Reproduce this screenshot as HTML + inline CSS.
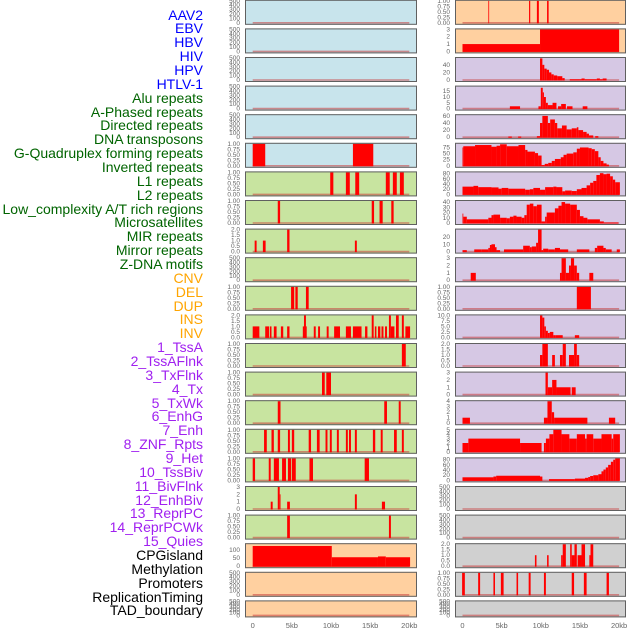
<!DOCTYPE html>
<html><head><meta charset="utf-8">
<style>
html,body{margin:0;padding:0;background:#fff;}
#wrap{position:relative;width:630px;height:630px;overflow:hidden;font-family:"Liberation Sans",sans-serif;}
.lbl{position:absolute;right:427px;font-size:14px;line-height:14px;white-space:nowrap;}
svg{position:absolute;left:0;top:0;}
</style></head>
<body>
<div id="wrap">
<svg id="chart" width="630" height="630"></svg>
</div>
<script>
const labels = ["AAV2","EBV","HBV","HIV","HPV","HTLV-1","Alu repeats","A-Phased repeats","Directed repeats","DNA transposons","G-Quadruplex forming repeats","Inverted repeats","L1 repeats","L2 repeats","Low_complexity A/T rich regions","Microsatellites","MIR repeats","Mirror repeats","Z-DNA motifs","CNV","DEL","DUP","INS","INV","1_TssA","2_TssAFlnk","3_TxFlnk","4_Tx","5_TxWk","6_EnhG","7_Enh","8_ZNF_Rpts","9_Het","10_TssBiv","11_BivFlnk","12_EnhBiv","13_ReprPC","14_ReprPCWk","15_Quies","CPGisland","Methylation","Promoters","ReplicationTiming","TAD_boundary"];
const labelColors = ["#0000ff","#0000ff","#0000ff","#0000ff","#0000ff","#0000ff","#006400","#006400","#006400","#006400","#006400","#006400","#006400","#006400","#006400","#006400","#006400","#006400","#006400","#ffa500","#ffa500","#ffa500","#ffa500","#ffa500","#a020f0","#a020f0","#a020f0","#a020f0","#a020f0","#a020f0","#a020f0","#a020f0","#a020f0","#a020f0","#a020f0","#a020f0","#a020f0","#a020f0","#a020f0","#000","#000","#000","#000","#000"];
const leftBg = ["#c8e4ec","#c8e4ec","#c8e4ec","#c8e4ec","#c8e4ec","#c8e4ec","#c8e4a0","#c8e4a0","#c8e4a0","#c8e4a0","#c8e4a0","#c8e4a0","#c8e4a0","#c8e4a0","#c8e4a0","#c8e4a0","#c8e4a0","#c8e4a0","#c8e4a0","#ffd0a0","#ffd0a0","#ffd0a0"];
const rightBg = ["#ffd0a0","#ffd0a0","#d6c8e4","#d6c8e4","#d6c8e4","#d6c8e4","#d6c8e4","#d6c8e4","#d6c8e4","#d6c8e4","#d6c8e4","#d6c8e4","#d6c8e4","#d6c8e4","#d6c8e4","#d6c8e4","#d6c8e4","#d0d0d0","#d0d0d0","#d0d0d0","#d0d0d0","#d0d0d0"];
const leftAxis = [[500,100,500,0],[500,100,500,0],[500,100,500,0],[500,100,500,0],[500,100,500,0],[1,0.25,1,2],[1,0.25,1,2],[1,0.25,1,2],[2,0.5,2,1],[500,100,500,0],[1,0.25,1,2],[2,0.5,2,1],[1,0.25,1,2],[1,0.25,1,2],[1,0.25,1,2],[1,0.25,1,2],[1,0.25,1,2],[3,1,3,0],[1,0.25,1,2],[135,50,100,0],[500,100,500,0],[500,100,500,0]];
const rightAxis = [[1,0.25,1,2],[3,1,3,0],[58,20,40,0],[19,5,15,0],[62,20,60,0],[90,25,75,0],[85,20,80,0],[42,10,40,0],[30,10,20,0],[3,1,3,0],[1,0.25,1,2],[10,2.5,10,1],[2,0.5,2,1],[3,1,3,0],[4,1,4,0],[5,1,5,0],[85,20,80,0],[500,100,500,0],[500,100,500,0],[2,0.5,2,1],[1,0.25,1,2],[500,100,500,0]];
const leftData = [[],[],[],[],[],
[0,1.6,1, 12.8,15.4,1],
[9.9,10.3,1, 11.9,12.4,1, 13.1,13.6,1, 17.0,17.5,1, 17.9,18.4,1, 18.8,19.3,1],
[3.2,3.5,1, 15.2,15.5,1, 16.2,16.6,1, 17.7,18.0,1],
[0.25,0.5,1, 1.3,1.65,1, 4.4,4.7,2, 13.05,13.3,1],
[],
[4.9,5.3,1, 5.45,5.75,1, 6.8,7.15,1],
[0,0.85,1, 1.6,2.1,1, 2.2,2.4,1, 2.7,3.05,1, 3.6,3.9,1, 4.4,4.7,1, 6.4,6.9,1, 6.55,6.8,2, 7.8,8.05,1, 8.35,8.6,1, 9.45,9.7,1, 10.4,11.15,1, 11.9,12.55,1, 12.8,13.9,1, 14.35,14.65,1, 15.2,15.45,2, 15.6,15.8,1, 16.0,16.3,1, 16.45,16.7,1, 16.9,17.15,1, 17.4,17.65,2, 17.65,18.1,1, 18.3,18.65,2, 19.05,19.3,2, 19.5,20.1,1],
[19.05,19.55,1],
[8.85,9.2,1, 9.4,10.0,1],
[3.2,3.55,1, 16.8,17.15,1, 18.65,18.9,1],
[1.45,1.8,1, 2.4,2.7,1, 3.2,3.5,1, 4.5,4.75,1, 5.0,5.3,1, 7.15,7.45,1, 8.2,8.55,1, 9.3,9.55,1, 9.85,10.1,1, 10.75,11.0,1, 11.9,12.15,1, 12.3,12.55,1, 13.05,13.3,1, 15.35,15.65,1, 16.35,16.6,1, 18.05,18.4,1, 19.05,19.3,1],
[0,0.3,1, 2.05,2.3,1, 2.7,3.35,1, 3.75,4.25,1, 4.5,4.9,1, 5.0,5.5,1, 7.25,7.7,1, 14.3,14.85,1],
[2.3,2.55,1, 3.2,3.45,3, 3.45,3.55,2, 4.4,4.75,1, 13.05,13.3,2, 16.5,16.9,1],
[4.4,4.75,1, 17.4,17.65,1],
[0,10.1,124, 10.1,16.0,55, 16.0,17.0,60, 17.0,20.1,55],
[],[]];
const rightData = [
[3.3,3.4,1, 8.5,8.65,1, 9.5,9.75,1, 10.8,11.0,1],
[0,9.9,1, 9.9,20,3],
[9.9,10.2,57, 10.2,10.45,40, 10.45,10.75,30, 10.75,11.05,27, 11.05,11.35,20, 11.35,11.65,15, 11.65,12.1,12, 12.1,12.75,10, 12.75,13.05,5, 13.7,15.0,2, 15.0,15.2,2, 15.2,15.6,4, 15.6,17.15,2, 17.15,17.55,4, 17.55,17.9,2, 17.9,18.4,4],
[6.05,7.35,2, 9.7,10.0,2, 10.0,10.25,18, 10.25,10.4,14, 10.4,10.65,10, 10.65,10.9,5, 10.9,11.5,3, 11.5,12.0,5, 12.2,12.6,2, 12.6,13.2,4, 13.35,14.05,2, 15.35,15.95,2],
[5.85,6.3,2, 7.1,7.5,2, 9.5,9.9,3, 9.9,10.2,40, 10.2,10.9,60, 10.9,11.2,40, 11.2,11.8,50, 11.8,12.1,40, 12.1,12.7,25, 12.7,13.3,33, 13.3,13.95,22, 13.95,14.6,25, 14.6,14.8,28, 14.8,15.4,20, 15.4,15.85,15, 15.85,16.15,10, 16.15,16.7,5, 16.95,17.35,3],
[0,0.1,75, 0.1,1.6,80, 1.6,3.7,85, 3.7,4.35,78, 4.35,4.8,82, 4.8,5.65,88, 5.65,7.15,80, 7.15,8.0,85, 8.0,8.3,65, 8.3,9.25,58, 9.25,9.65,52, 9.65,10.1,42, 10.1,10.5,3, 10.5,10.95,8, 10.95,11.4,12, 11.4,11.8,20, 11.8,12.55,28, 12.55,12.9,35, 12.9,13.3,45, 13.3,14.15,50, 14.15,14.6,55, 14.6,15.0,70, 15.0,16.1,75, 16.1,16.5,72, 16.5,16.9,68, 16.9,17.35,60, 17.35,17.65,35, 17.65,18.0,20, 18.0,18.4,10, 18.4,18.7,5],
[0,1.4,30, 1.4,2.0,33, 2.0,3.7,28, 3.7,4.6,27, 4.6,5.0,22, 5.0,5.85,25, 5.85,8.0,22, 8.0,8.6,18, 8.6,9.05,20, 9.05,9.9,25, 9.9,10.55,18, 10.55,11.6,28, 11.6,12.0,30, 12.0,12.75,28, 12.75,13.1,12, 13.1,13.95,15, 13.95,14.6,13, 14.6,15.2,20, 15.2,15.85,25, 15.85,16.3,35, 16.3,16.7,45, 16.7,17.1,52, 17.1,17.55,75, 17.55,18.0,82, 18.0,18.4,78, 18.4,18.85,80, 18.85,19.2,70, 19.2,19.5,57, 19.5,20.1,47],
[0,0.1,18, 0.1,0.55,12, 0.55,3.3,7, 3.3,3.7,10, 3.7,3.95,15, 3.95,4.8,16, 4.8,5.65,10, 5.65,6.05,9, 6.05,6.5,12, 6.5,6.9,14, 6.9,7.55,12, 7.55,7.9,10, 7.9,8.2,15, 8.2,8.6,35, 8.6,9.05,37, 9.05,9.5,32, 9.5,10.1,35, 10.1,10.55,3, 10.55,10.75,12, 10.75,11.8,20, 11.8,12.25,28, 12.25,12.65,33, 12.65,13.1,40, 13.1,13.75,37, 13.75,14.6,35, 14.6,15.0,25, 15.0,15.45,13, 15.45,15.95,10, 15.95,17.55,7, 17.55,18.05,3, 18.05,19.9,1],
[0,0.55,2, 1.5,2.45,3, 2.45,3.3,3, 3.3,3.5,5, 3.5,3.7,9, 3.7,4.15,10, 4.15,4.35,6, 4.35,4.8,2, 5.3,7.75,3, 7.75,8.6,8, 8.6,8.85,6, 8.85,9.4,7, 9.4,9.65,12, 9.65,10.1,30, 10.1,10.3,2, 10.3,10.95,4, 10.95,11.8,3, 11.8,12.45,5, 12.45,13.5,3, 14.6,16.2,3, 16.9,17.2,5, 17.2,18.0,8, 18.0,18.3,5, 18.3,19.05,3, 19.7,20.1,3],
[1.05,1.7,1, 12.45,12.65,1, 12.65,13.2,3, 13.2,13.6,1, 13.6,13.85,2, 13.85,14.25,3, 14.25,14.6,2, 14.6,14.9,1, 16.2,16.7,1],
[14.6,16.4,1],
[9.9,10.2,10, 10.2,10.45,9, 10.45,10.65,5, 10.65,10.9,3, 10.9,11.15,2, 11.15,11.6,2.5, 11.6,11.85,1, 11.85,12.8,1, 14.35,14.9,1],
[9.9,10.2,1, 10.2,10.9,2, 11.45,11.8,1, 12.45,12.8,1, 12.8,13.2,2, 13.6,14.25,1, 14.25,14.6,2, 14.6,14.9,1],
[10.6,10.9,3, 10.9,11.45,1, 11.45,12.0,2, 12.0,13.8,1, 13.95,14.45,1],
[0,0.95,1, 10.4,10.85,1, 10.85,11.4,4, 11.4,11.7,2, 11.7,15.95,1, 18.7,19.5,1],
[0,0.75,2, 0.75,7.35,3, 7.35,10.1,2, 10.4,10.65,2, 10.65,11.1,3, 11.1,11.6,4, 11.6,12.65,5, 12.65,13.65,4, 13.65,14.6,3, 14.6,15.65,4, 15.65,15.85,3, 15.85,16.7,4, 16.7,17.75,3, 17.75,19.05,4, 19.05,19.25,3, 19.25,20.1,4],
[0,3.95,12, 3.95,4.3,15, 4.3,9.9,18, 9.9,10.2,15, 11.05,14.35,5, 14.35,15.65,7, 15.65,16.05,10, 16.05,16.3,13, 16.3,16.7,17, 16.7,17.35,20, 17.35,17.75,24, 17.75,18.0,35, 18.0,18.3,42, 18.3,18.6,50, 18.6,18.95,60, 18.95,19.25,72, 19.25,19.5,80, 19.5,20.1,85],
[],[],
[9.25,9.45,1, 10.8,11.0,1, 12.6,12.8,1, 12.8,13.2,2, 13.75,13.95,2, 13.95,14.3,1, 14.3,14.6,2, 14.7,15.2,1, 15.2,15.65,2, 16.2,16.35,1, 16.35,16.7,2],
[-0.05,0.3,1, 2.0,2.25,1, 3.95,4.15,1, 4.9,5.25,1, 6.9,7.1,1, 8.45,8.7,1, 10.4,10.65,1, 13.95,14.25,1, 15.5,15.85,1, 18.4,18.7,1],
[]];
const xTicks = [0,5,10,15,20];
const xTickLabels = ["0","5kb","10kb","15kb","20kb"];

const NS = "http://www.w3.org/2000/svg";
const svg = document.getElementById('chart');
const wrap = document.getElementById('wrap');
function mk(tag, attrs, parent){const e=document.createElementNS(NS,tag);for(const k in attrs)e.setAttribute(k,attrs[k]);(parent||svg).appendChild(e);return e;}
const ROWS = 22;
function rowTop(i){return -0.2 + 28.6*i;}
function rowH(i){return i===ROWS-1 ? 17 : 25;}
const sides = [{x0:245,x1:417,z:252.7,k:7.83,bg:leftBg,ax:leftAxis,data:leftData,tx:240,name:'left'},
               {x0:455,x1:626,z:462.5,k:7.83,bg:rightBg,ax:rightAxis,data:rightData,tx:450,name:'right'}];

labels.forEach((t,i)=>{
  const d=document.createElement('div');
  d.className='lbl';
  d.textContent=t;
  d.style.color=labelColors[i];
  d.style.top=(15+13.86*i-7.5)+'px';
  
  
  wrap.appendChild(d);
});

sides.forEach(s=>{
  const xs = kb => s.z + s.k*kb;
  for(let i=0;i<ROWS;i++){
    const T=rowTop(i), H=rowH(i);
    const [scale,step,tickTop,dec]=s.ax[i];
    const ys = v => T+H-2 - (v/scale)*(H-3);
    const g=mk('g',{});
    
    
    const r=mk('rect',{x:s.x0,y:T,width:s.x1-s.x0,height:H,fill:s.bg[i]},g);
    
    
    const base=mk('line',{x1:xs(0),x2:xs(20),y1:T+H-2,y2:T+H-2,stroke:'rgba(200,60,60,0.55)','stroke-width':1.6},g);
    
    
    const d=s.data[i];
    for(let j=0;j<d.length;j+=3){
      const x1=xs(Math.max(d[j],-0.1)), x2=xs(d[j+1]), y=ys(d[j+2]);
      const b=mk('rect',{x:x1,y:y,width:Math.max(x2-x1,0.8),height:(T+H-2)-y+0.5,fill:'#ff0000'},g);
      
      
    }
    mk('rect',{x:s.x0+0.5,y:T+0.5,width:s.x1-s.x0-1,height:H-1,fill:'none',stroke:'#606060','stroke-width':1},g);
    for(let v=0; v<=tickTop+1e-9; v+=step){
      const t=mk('text',{x:s.tx,y:ys(v)+2,'text-anchor':'end','font-size':6.5,fill:'#666','font-family':'Liberation Sans, sans-serif'},g);
      t.textContent=v.toFixed(dec);
      
      
    }
  }
  xTicks.forEach((v,j)=>{
    const t=mk('text',{x:xs(v),y:628,'text-anchor':'middle','font-size':7.5,fill:'#666','font-family':'Liberation Sans, sans-serif'});
    t.textContent=xTickLabels[j];
    
    
  });
});
</script>
</body></html>
